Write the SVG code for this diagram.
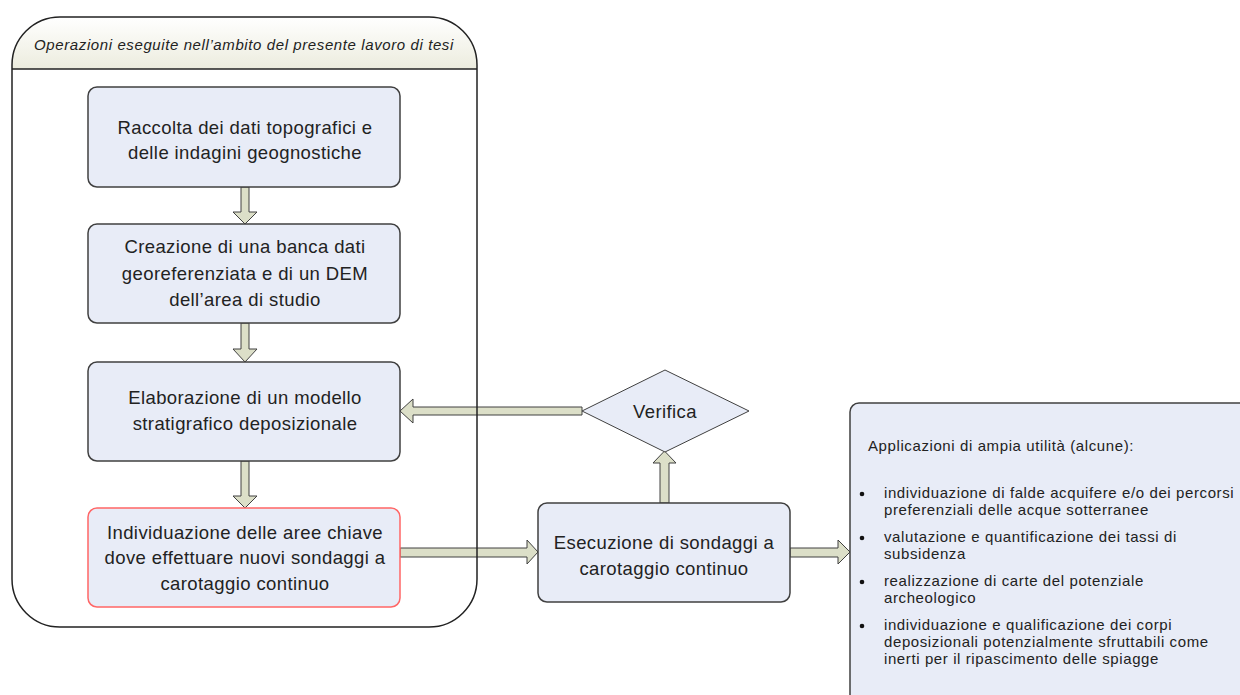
<svg xmlns="http://www.w3.org/2000/svg" width="1240" height="695" viewBox="0 0 1240 695">
<defs>
<linearGradient id="hdr" x1="0" y1="0" x2="0" y2="1">
<stop offset="0" stop-color="#ffffff"/>
<stop offset="1" stop-color="#ececde"/>
</linearGradient>
<style>
.box{fill:#e8ecf7;stroke:#404040;stroke-width:1.5}
.red{fill:#e8ecf7;stroke:#ff6666;stroke-width:1.5}
.arr{fill:#dcdfc8;stroke:#404040;stroke-width:1}
.t{font-family:"Liberation Sans",Arial,sans-serif;font-size:18.5px;letter-spacing:0.4px;fill:#222;text-anchor:middle}
.s{font-family:"Liberation Sans",Arial,sans-serif;font-size:15px;letter-spacing:0.6px;fill:#222}
.h{font-family:"Liberation Sans",Arial,sans-serif;font-size:15px;letter-spacing:0.6px;font-style:italic;fill:#222;text-anchor:middle}
</style>
</defs>
<rect width="1240" height="695" fill="#ffffff"/>
<g id="container">
<path d="M12,69 L12,65 A48,48 0 0 1 60,17 L429,17 A48,48 0 0 1 477,65 L477,69 Z" fill="url(#hdr)"/>
<text class="h" x="244" y="50">Operazioni eseguite nell’ambito del presente lavoro di tesi</text>
</g>
<g id="connectors">
<polygon class="arr" points="241,187 249,187 249,212 257,212 245,224 233,212 241,212 241,187"/>
<polygon class="arr" points="241,323 249,323 249,349 257,349 245,362 233,349 241,349 241,323"/>
<polygon class="arr" points="241,461 249,461 249,496 257,496 245,508 233,496 241,496 241,461"/>
<polygon class="arr" points="400,548 527,548 527,540 538,552 527,564 527,557 400,557 400,548"/>
<polygon class="arr" points="790,548 838,548 838,540 850,552 838,564 838,557 790,557 790,548"/>
<polygon class="arr" points="660,503 660,463 653,463 664.5,451 676,463 669,463 669,503 660,503"/>
<polygon class="arr" points="582,407 413,407 413,399 400,411 413,423 413,415 582,415 582,407"/>
</g>
<g id="n1">
<rect class="box" x="88" y="87" width="312" height="100" rx="9"/>
<text class="t" x="245" y="134">Raccolta dei dati topografici e</text>
<text class="t" x="245" y="159">delle indagini geognostiche</text>
</g>
<g id="n2">
<rect class="box" x="88" y="224" width="312" height="99" rx="9"/>
<text class="t" x="245" y="253">Creazione di una banca dati</text>
<text class="t" x="245" y="280">georeferenziata e di un DEM</text>
<text class="t" x="245" y="306">dell’area di studio</text>
</g>
<g id="n3">
<rect class="box" x="88" y="362" width="312" height="99" rx="9"/>
<text class="t" x="245" y="404">Elaborazione di un modello</text>
<text class="t" x="245" y="430">stratigrafico deposizionale</text>
</g>
<g id="n4">
<rect class="red" x="88" y="508" width="312" height="99" rx="9"/>
<text class="t" x="245" y="539">Individuazione delle aree chiave</text>
<text class="t" x="245" y="564">dove effettuare nuovi sondaggi a</text>
<text class="t" x="245" y="590">carotaggio continuo</text>
</g>
<g id="n5">
<rect class="box" x="538" y="503" width="252" height="99" rx="9"/>
<text class="t" x="664" y="549">Esecuzione di sondaggi a</text>
<text class="t" x="664" y="575">carotaggio continuo</text>
</g>
<g id="n6">
<polygon class="box" style="stroke-width:1" points="582,411 665,370 749,411 665,452"/>
<text class="t" x="665" y="418">Verifica</text>
</g>
<g id="n7">
<rect class="box" x="850" y="403" width="420" height="320" rx="9"/>
<text class="s" x="868" y="451">Applicazioni di ampia utilità (alcune):</text>
<g fill="#111">
<circle cx="862" cy="494" r="2.3"/>
<circle cx="862" cy="538" r="2.3"/>
<circle cx="862" cy="582" r="2.3"/>
<circle cx="862" cy="626" r="2.3"/>
</g>
<text class="s" x="884" y="498">individuazione di falde acquifere e/o dei percorsi</text>
<text class="s" x="884" y="515">preferenziali delle acque sotterranee</text>
<text class="s" x="884" y="542">valutazione e quantificazione dei tassi di</text>
<text class="s" x="884" y="559">subsidenza</text>
<text class="s" x="884" y="586">realizzazione di carte del potenziale</text>
<text class="s" x="884" y="603">archeologico</text>
<text class="s" x="884" y="630">individuazione e qualificazione dei corpi</text>
<text class="s" x="884" y="647">deposizionali potenzialmente sfruttabili come</text>
<text class="s" x="884" y="664">inerti per il ripascimento delle spiagge</text>
</g>
<g id="container-outline" fill="none" stroke="#222" stroke-width="1.5">
<rect x="12" y="17" width="465" height="610" rx="48"/>
<line x1="12" y1="69" x2="477" y2="69"/>
</g>
</svg>
